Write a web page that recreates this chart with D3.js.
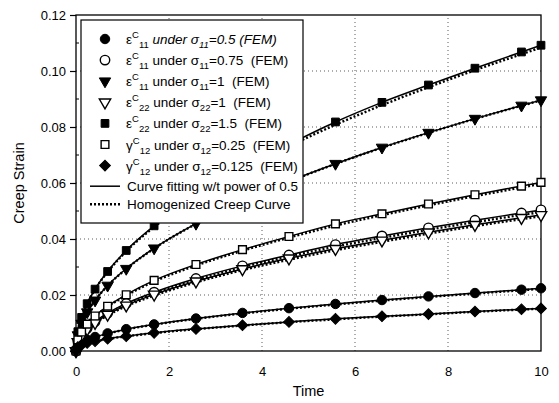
<!DOCTYPE html>
<html>
<head>
<meta charset="utf-8">
<script src="https://cdn.jsdelivr.net/npm/d3@7"></script>
<style>
  body { margin: 0; background: #fff; }
  svg { font-family: "Liberation Sans", Arial, sans-serif; }
</style>
</head>
<body>
<svg class="creep" width="559" height="403"></svg>
<script>
// output times of the FEM runs
var times = [0, 0.04, 0.12, 0.24, 0.41, 0.68, 1.08, 1.68, 2.58, 3.58, 4.58, 5.58, 6.58, 7.58, 8.58, 9.58, 10];

// FEM values / power 0.5 fit (solid line goes through them)
var e22_s150 = [0, 0.0069, 0.0120, 0.0169, 0.0221, 0.0284, 0.0359, 0.0447, 0.0554, 0.0653, 0.0738, 0.0818, 0.0888, 0.0950, 0.1010, 0.1068, 0.1092];
var e11_s100 = [0, 0.0057, 0.0098, 0.0139, 0.0181, 0.0234, 0.0294, 0.0367, 0.0455, 0.0536, 0.0606, 0.0669, 0.0727, 0.0780, 0.0830, 0.0877, 0.0896];
var g12_s025 = [0, 0.0040, 0.0068, 0.0096, 0.0125, 0.0160, 0.0201, 0.0252, 0.0309, 0.0362, 0.0409, 0.0454, 0.0490, 0.0525, 0.0558, 0.0589, 0.0602];
var e11_s075 = [0, 0.0034, 0.0058, 0.0081, 0.0105, 0.0135, 0.0170, 0.0210, 0.0259, 0.0304, 0.0343, 0.0380, 0.0411, 0.0440, 0.0467, 0.0493, 0.0504];
var e22_s100 = [0, 0.0032, 0.0055, 0.0078, 0.0101, 0.0130, 0.0163, 0.0202, 0.0249, 0.0293, 0.0331, 0.0365, 0.0395, 0.0424, 0.0451, 0.0476, 0.0486];
var e11_s050 = [0, 0.0018, 0.0030, 0.0040, 0.0050, 0.0063, 0.0078, 0.0095, 0.0116, 0.0136, 0.0153, 0.0168, 0.0182, 0.0195, 0.0207, 0.0219, 0.0224];
var g12_s0125 = [0, 0.0014, 0.0022, 0.0029, 0.0035, 0.0044, 0.0053, 0.0065, 0.0079, 0.0092, 0.0104, 0.0115, 0.0124, 0.0132, 0.0141, 0.0149, 0.0152];

// homogenized creep curves (dotted)
var h22_s150 = [0, 0.0069, 0.0120, 0.0169, 0.0220, 0.0282, 0.0356, 0.0443, 0.0549, 0.0647, 0.0731, 0.0808, 0.0878, 0.0942, 0.1003, 0.1060, 0.1084];
var h11_s100 = [0, 0.0057, 0.0098, 0.0139, 0.0181, 0.0233, 0.0293, 0.0366, 0.0454, 0.0535, 0.0605, 0.0668, 0.0726, 0.0779, 0.0829, 0.0876, 0.0895];
var hg12_s025 = [0, 0.0039, 0.0067, 0.0094, 0.0123, 0.0158, 0.0198, 0.0248, 0.0305, 0.0358, 0.0405, 0.0448, 0.0485, 0.0520, 0.0553, 0.0584, 0.0597];
var h11_s075 = [0, 0.0033, 0.0057, 0.0080, 0.0103, 0.0132, 0.0166, 0.0206, 0.0254, 0.0299, 0.0338, 0.0373, 0.0404, 0.0433, 0.0460, 0.0486, 0.0496];
var h22_s100 = [0, 0.0031, 0.0054, 0.0076, 0.0099, 0.0127, 0.0160, 0.0198, 0.0245, 0.0289, 0.0326, 0.0360, 0.0390, 0.0419, 0.0446, 0.0471, 0.0481];
var h11_s050 = [0, 0.0017, 0.0029, 0.0039, 0.0049, 0.0062, 0.0077, 0.0094, 0.0115, 0.0134, 0.0151, 0.0166, 0.0180, 0.0193, 0.0205, 0.0217, 0.0222];
var hg12_s0125 = [0, 0.0013, 0.0021, 0.0028, 0.0034, 0.0043, 0.0052, 0.0064, 0.0078, 0.0091, 0.0103, 0.0113, 0.0123, 0.0131, 0.0140, 0.0148, 0.0151];

var xTicks = [0, 2, 4, 6, 8, 10];
var yTicks = [0, 0.02, 0.04, 0.06, 0.08, 0.10, 0.12];

// legend rows: symbol, fill, label pieces, data
var series = [
    {sym: "circle",  filled: true,  letter: "ε", idx: "11", stress: "=0.5 (FEM)",    italic: true,  fem: e11_s050,  hom: h11_s050},
    {sym: "circle",  filled: false, letter: "ε", idx: "11", stress: "=0.75  (FEM)",  italic: false, fem: e11_s075,  hom: h11_s075},
    {sym: "tridown", filled: true,  letter: "ε", idx: "11", stress: "=1  (FEM)",     italic: false, fem: e11_s100,  hom: h11_s100},
    {sym: "tridown", filled: false, letter: "ε", idx: "22", stress: "=1  (FEM)",     italic: false, fem: e22_s100,  hom: h22_s100},
    {sym: "square",  filled: true,  letter: "ε", idx: "22", stress: "=1.5  (FEM)",   italic: false, fem: e22_s150,  hom: h22_s150},
    {sym: "square",  filled: false, letter: "γ", idx: "12", stress: "=0.25  (FEM)",  italic: false, fem: g12_s025,  hom: hg12_s025},
    {sym: "diamond", filled: true,  letter: "γ", idx: "12", stress: "=0.125  (FEM)", italic: false, fem: g12_s0125, hom: hg12_s0125}
];

var svg = d3.select("svg.creep");
var x = d3.scaleLinear().domain([0, 10]).range([76, 541]);
var y = d3.scaleLinear().domain([0, 0.12]).range([351, 15]);

// grid
var grid = svg.append("g").attr("stroke", "#333").attr("stroke-width", 0.8).attr("stroke-dasharray", "1,3");
grid.selectAll(".gx").data(xTicks.slice(1, -1)).enter().append("line")
    .attr("x1", function(d) { return x(d); }).attr("x2", function(d) { return x(d); })
    .attr("y1", y(0)).attr("y2", y(0.12));
grid.selectAll(".gy").data(yTicks.slice(1, -1)).enter().append("line")
    .attr("y1", function(d) { return y(d); }).attr("y2", function(d) { return y(d); })
    .attr("x1", x(0)).attr("x2", x(10));

// frame
svg.append("rect").attr("x", x(0)).attr("y", y(0.12))
    .attr("width", x(10) - x(0)).attr("height", y(0) - y(0.12))
    .attr("fill", "none").attr("stroke", "#000").attr("stroke-width", 1.3);

// axes
var xAxis = svg.append("g").attr("transform", "translate(0," + y(0) + ")")
    .call(d3.axisBottom(x).tickValues(xTicks).tickFormat(d3.format("d")).tickSize(0).tickPadding(16));
var yAxis = svg.append("g").attr("transform", "translate(" + x(0) + ",0)")
    .call(d3.axisLeft(y).tickValues(yTicks).tickFormat(d3.format(".2f")).tickSize(6).tickPadding(4));
[xAxis, yAxis].forEach(function(a) {
    a.select(".domain").remove();
    a.selectAll("text").attr("font-size", "13px").attr("fill", "#000")
        .attr("font-family", "'Liberation Sans', Arial, sans-serif");
    a.selectAll("line").attr("stroke", "#000").attr("stroke-width", 1.2);
});
// minor ticks
svg.append("g").selectAll("line").data([0.01, 0.03, 0.05, 0.07, 0.09, 0.11]).enter().append("line")
    .attr("x1", x(0)).attr("x2", x(0) + 3)
    .attr("y1", function(d) { return y(d); }).attr("y2", function(d) { return y(d); })
    .attr("stroke", "#000");

svg.append("text").attr("x", (x(0) + x(10)) / 2).attr("y", 396)
    .attr("text-anchor", "middle").attr("font-size", "14.5px").attr("fill", "#000").text("Time");
svg.append("text").attr("transform", "translate(24," + y(0.06) + ") rotate(-90)")
    .attr("text-anchor", "middle").attr("font-size", "14.5px").attr("fill", "#000").text("Creep Strain");

// curves
var line = d3.line()
    .x(function(d, i) { return x(times[i]); })
    .y(function(d) { return y(d); })
    .curve(d3.curveMonotoneX);

series.forEach(function(s) {
    svg.append("path").attr("d", line(s.hom))
        .attr("fill", "none").attr("stroke", "#000").attr("stroke-width", 2.4)
        .attr("stroke-dasharray", "2,2");
    svg.append("path").attr("d", line(s.fem))
        .attr("fill", "none").attr("stroke", "#000").attr("stroke-width", 1.5);
});

function symbolPath(sym) {
    if (sym === "circle") return d3.symbol().type(d3.symbolCircle).size(70)();
    if (sym === "square") return d3.symbol().type(d3.symbolSquare).size(60)();
    if (sym === "diamond") return d3.symbol().type(d3.symbolSquare).size(58)();
    return d3.symbol().type(d3.symbolTriangle).size(56)();
}
function symbolRot(sym) {
    if (sym === "diamond") return " rotate(45)";
    if (sym === "tridown") return " rotate(180)";
    return "";
}
function drawMarker(g, s, cx, cy) {
    g.append("path").attr("d", symbolPath(s.sym))
        .attr("transform", "translate(" + cx + "," + cy + ")" + symbolRot(s.sym))
        .attr("fill", s.filled ? "#000" : "#fff")
        .attr("stroke", "#000").attr("stroke-width", s.filled ? 1 : 1.4);
}

var marks = svg.append("g");
series.forEach(function(s) {
    s.fem.forEach(function(v, i) {
        drawMarker(marks, s, x(times[i]), y(v));
    });
});

// legend
var legend = svg.append("g").attr("class", "legend").attr("font-size", "13.5px").attr("fill", "#000");
legend.append("rect").attr("x", 81).attr("y", 20).attr("width", 222).attr("height", 203)
    .attr("fill", "#fff").attr("stroke", "#000").attr("stroke-width", 1.2);
legend.rowY = 39;
legend.rowH = 21.1;
series.forEach(function(s, i) {
    var ry = legend.rowY + i * legend.rowH;
    drawMarker(legend, s, 105, ry);
    var t = legend.append("text").attr("x", 126).attr("y", ry + 5).style("white-space", "pre");
    t.append("tspan").text(s.letter);
    t.append("tspan").attr("font-size", "9.5px").attr("dy", -6).text("C");
    t.append("tspan").attr("font-size", "9.5px").attr("dy", 10).text(s.idx);
    var rest = t.append("tspan").attr("dy", -4).text(" under σ");
    var sub = t.append("tspan").attr("font-size", "9.5px").attr("dy", 4).text(s.idx);
    var st = t.append("tspan").attr("dy", -4).text(s.stress);
    if (s.italic) { rest.attr("font-style", "italic"); sub.attr("font-style", "italic"); st.attr("font-style", "italic"); }
});
var ly1 = legend.rowY + 7 * legend.rowH - 0.5, ly2 = ly1 + 18;
legend.append("line").attr("x1", 90).attr("x2", 120).attr("y1", ly1).attr("y2", ly1)
    .attr("stroke", "#000").attr("stroke-width", 1.5);
legend.append("text").attr("x", 127).attr("y", ly1 + 5).text("Curve fitting w/t power of 0.5");
legend.append("line").attr("x1", 90).attr("x2", 120).attr("y1", ly2).attr("y2", ly2)
    .attr("stroke", "#000").attr("stroke-width", 2.4).attr("stroke-dasharray", "2,2");
legend.append("text").attr("x", 127).attr("y", ly2 + 5).text("Homogenized Creep Curve");
</script>
</body>
</html>
